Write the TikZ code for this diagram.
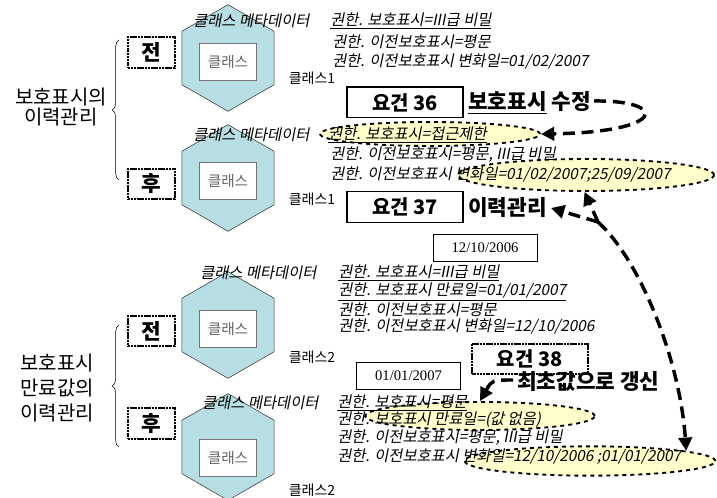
\documentclass[tikz,border=0pt]{standalone}
\usepackage{fontspec}
\setmainfont{Noto Sans CJK KR}
\newfontfamily\slkr{Noto Sans CJK KR}[FakeSlant=0.2]
\newfontfamily\tms{Liberation Serif}
\usetikzlibrary{shapes.geometric,arrows.meta,decorations.pathreplacing,calc}
\definecolor{hexblue}{HTML}{B7DEE2}
\definecolor{hiyellow}{HTML}{FFFFCC}

\begin{document}
\begin{tikzpicture}[x=0.75pt,y=-0.75pt,
    hexa/.style={regular polygon,regular polygon sides=6,shape border rotate=30,minimum size=80pt,inner sep=0pt,draw=black!80,fill=hexblue},
    clsbox/.style={draw=black!55,fill=white,minimum width=43pt,minimum height=28pt,inner sep=0pt,text=black!60,font=\fontsize{11}{13}\selectfont},
    tagbox/.style={draw,line width=1.5pt,dash pattern=on 1.6pt off 0.5pt,minimum width=35pt,minimum height=23pt,inner sep=0pt,font=\fontsize{16}{18}\selectfont\bfseries},
    reqbox/.style={draw,line width=1pt,fill=white,minimum width=87pt,minimum height=23pt,inner sep=0pt,font=\fontsize{15}{17}\selectfont\bfseries},
    datebox/.style={draw,thin,minimum width=78pt,minimum height=20pt,inner sep=0pt,font=\tms\fontsize{11}{13}\selectfont},
    meta/.style={anchor=west,inner sep=0pt,font=\slkr\fontsize{11.5}{13}\selectfont},
    clsname/.style={inner sep=0pt,font=\fontsize{10.5}{12}\selectfont},
    note/.style={anchor=west,inner sep=0pt,font=\fontsize{16}{18}\selectfont\bfseries},
    hilite/.style={ellipse,draw,dashed,line width=1.4pt,fill=hiyellow,inner sep=0pt},
    bigarrow/.style={-{Triangle[length=10pt,width=10pt]},line width=2.6pt,dash pattern=on 9pt off 5pt},
    brc/.style={decorate,decoration={brace,amplitude=5pt},thin}]
  \useasboundingbox (0,0) rectangle (717,498);

  \node[hexa] (h1) at (228,58) {};
  \node[hexa] (h2) at (228,178) {};
  \node[hexa] (h3) at (228,325) {};
  \node[hexa] (h4) at (228,447) {};
  \node[clsbox] (k1) at (228,62) {클래스};
  \node[clsbox] (k2) at (228,181) {클래스};
  \node[clsbox] (k3) at (228,329) {클래스};
  \node[clsbox] (k4) at (228,458) {클래스};

  \node[tagbox] (t1) at (151.5,52.5) {전};
  \node[tagbox] (t2) at (151.5,184) {후};
  \node[tagbox] (t3) at (151.5,331) {전};
  \node[tagbox] (t4) at (151.5,423.5) {후};

  \node[align=center,inner sep=0pt,font=\fontsize{15}{14.5}\selectfont] (lab1) at (61,107) {보호표시의\\이력관리};
  \node[align=center,inner sep=0pt,font=\fontsize{15}{18.5}\selectfont] (lab2) at (57,388) {보호표시\\만료값의\\이력관리};
  \coordinate (b1top) at (119,40);
  \coordinate (b1bot) at (119,180);
  \coordinate (b2top) at (119,325);
  \coordinate (b2bot) at (119,447);
  \draw[brc] (b1bot) -- (b1top);
  \draw[brc] (b2bot) -- (b2top);

  \node[hilite,minimum width=165pt,minimum height=18pt] (e1) at (430,134) {};
  \node[hilite,minimum width=192pt,minimum height=24pt] (e2) at (586,175) {};
  \node[hilite,minimum width=172pt,minimum height=21pt] (eA) at (480,416) {};
  \node[hilite,minimum width=188pt,minimum height=22pt] (eB) at (590,461) {};

  \node[meta] (m1) at (193,21) {클래스 메타데이터};
  \node[meta] (a11) at (330,21) {\underline{권한. 보호표시=III급 비밀}};
  \node[meta] (a12) at (332,42) {권한. 이전보호표시=평문};
  \node[meta] (a13) at (332,62) {권한. 이전보호표시 변화일=01/02/2007};
  \node[clsname] (c1) at (312,78) {클래스1};

  \node[meta] (m2) at (193,135) {클래스 메타데이터};
  \node[meta] (a21) at (328,135) {\underline{권한. 보호표시=접근제한}};
  \node[meta] (a22) at (330,155) {권한. 이전보호표시=평문, III급 비밀};
  \node[meta] (a23) at (330,175) {권한. 이전보호표시 변화일=01/02/2007;25/09/2007};
  \node[clsname] (c2) at (312,199) {클래스1};

  \node[meta] (m3) at (200,273) {클래스 메타데이터};
  \node[meta] (a31) at (338,273) {\underline{권한. 보호표시=III급 비밀}};
  \node[meta] (a32) at (338,292) {\underline{권한. 보호표시 만료일=01/01/2007}};
  \node[meta] (a33) at (338,310) {권한. 이전보호표시=평문};
  \node[meta] (a34) at (338,327) {권한. 이전보호표시 변화일=12/10/2006};
  \node[clsname] (c3) at (312,357) {클래스2};

  \node[meta] (m4) at (202,403) {클래스 메타데이터};
  \node[meta] (a41) at (337,403) {\underline{권한. 보호표시=평문}};
  \node[meta] (a42) at (337,420) {권한. 보호표시 만료일=(값 없음)};
  \node[meta] (a43) at (337,438) {권한. 이전보호표시=평문, III급 비밀};
  \node[meta] (a44) at (337,457) {권한. 이전보호표시 변화일=12/10/2006 ;01/01/2007};
  \node[clsname] (c4) at (312,490) {클래스2};

  \node[reqbox] (r36) at (405,102.5) {요건 36};
  \node[note] (fix) at (468,103) {\underline{보호표시} 수정};
  \node[reqbox] (r37) at (405,207) {요건 37};
  \node[note] (hist) at (468,208) {이력관리};
  \node[reqbox,line width=1.5pt,dash pattern=on 1.6pt off 0.5pt] (r38) at (529.5,359) {요건 38};
  \node[note] (upd) at (517,382) {최초값으로 갱신};

  \node[datebox] (d1) at (485,247.5) {12/10/2006};
  \node[datebox] (d2) at (408.5,375.5) {01/01/2007};

  \coordinate (fk) at (598,222);
  \draw[bigarrow] ($(fix.east)+(3,-2)$) .. controls (668,100) and (668,132) .. (e1.east);
  \draw[bigarrow] (fk) -- ($(hist.east)+(4,0)$);
  \draw[bigarrow] (fk) -- (e2.265);
  \draw[bigarrow] (fk) .. controls (640,260) and (680,360) .. (eB.6);
  \draw[bigarrow] ($(upd.west)+(-4,-2)$) .. controls (492,380) .. (eA.north);
\end{tikzpicture}
\end{document}
